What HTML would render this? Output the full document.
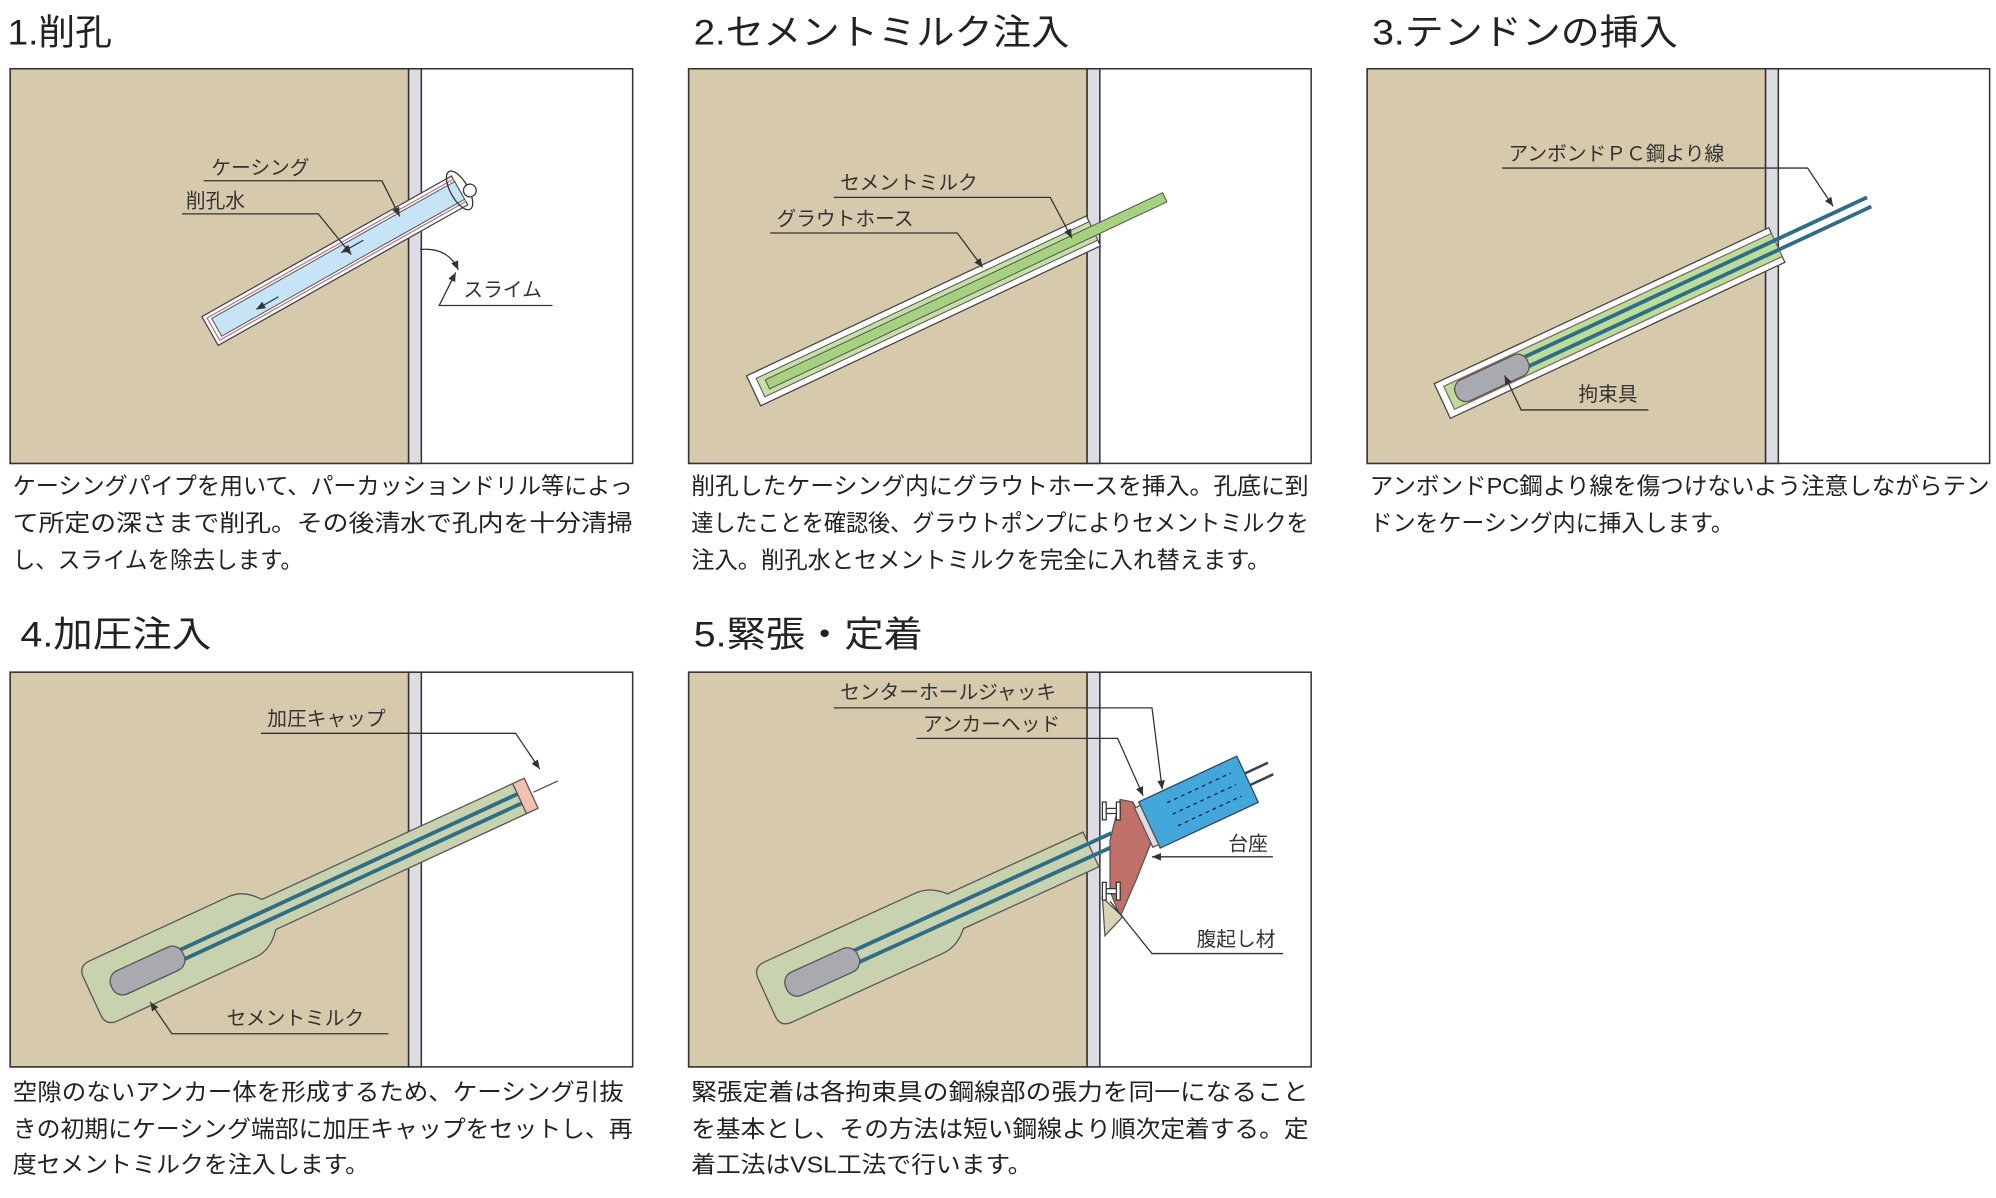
<!DOCTYPE html>
<html><head><meta charset="utf-8"><style>
html,body{margin:0;padding:0;background:#fff;}
svg{display:block;}
text{font-family:"Liberation Sans","Noto Sans CJK JP",sans-serif;fill:#222;}
.t{font-size:28px;}
.c{font-size:18.3px;}
.l{font-size:15.5px;fill:#333;}
</style></head><body>
<svg width="1996" height="1198" viewBox="0 0 1568 941" preserveAspectRatio="none" xmlns="http://www.w3.org/2000/svg">
<defs>
<marker id="ar" markerWidth="8" markerHeight="8" refX="7" refY="4" orient="auto"><path d="M0,1 L7,4 L0,7 z" fill="#333"/></marker>
</defs>
<!-- Titles -->
<text class="t" x="6" y="35" textLength="82" lengthAdjust="spacingAndGlyphs">1.削孔</text>
<text class="t" x="545" y="35" textLength="295" lengthAdjust="spacingAndGlyphs">2.セメントミルク注入</text>
<text class="t" x="1078" y="35" textLength="240" lengthAdjust="spacingAndGlyphs">3.テンドンの挿入</text>
<text class="t" x="16" y="508" textLength="150" lengthAdjust="spacingAndGlyphs">4.加圧注入</text>
<text class="t" x="545" y="508" textLength="180" lengthAdjust="spacingAndGlyphs">5.緊張・定着</text>

<!-- Panel boxes -->
<g stroke="#333" stroke-width="1.2">
<rect x="8" y="54" width="489" height="310" fill="#fff"/>
<rect x="8" y="54" width="313" height="310" fill="#d7c9ac"/>
<rect x="321" y="54" width="10" height="310" fill="#dcdce2"/>
<rect x="541" y="54" width="489" height="310" fill="#fff"/>
<rect x="541" y="54" width="313" height="310" fill="#d7c9ac"/>
<rect x="854" y="54" width="10" height="310" fill="#dcdce2"/>
<rect x="1074" y="54" width="489" height="310" fill="#fff"/>
<rect x="1074" y="54" width="313" height="310" fill="#d7c9ac"/>
<rect x="1387" y="54" width="10" height="310" fill="#dcdce2"/>
<rect x="8" y="528" width="489" height="310" fill="#fff"/>
<rect x="8" y="528" width="313" height="310" fill="#d7c9ac"/>
<rect x="321" y="528" width="10" height="310" fill="#dcdce2"/>
<rect x="541" y="528" width="489" height="310" fill="#fff"/>
<rect x="541" y="528" width="313" height="310" fill="#d7c9ac"/>
<rect x="854" y="528" width="10" height="310" fill="#dcdce2"/>
</g>

<!-- Panel 1 -->
<g transform="translate(165,260) rotate(-29.4)">
<rect x="0" y="-13" width="225" height="26" fill="#fff" stroke="#444"/>
<rect x="3" y="-10" width="222" height="20" fill="none" stroke="#b78" stroke-width="1"/>
<rect x="6" y="-8" width="219" height="16" fill="#c6e4f6" stroke="#555" stroke-width="0.8"/>
<ellipse cx="225" cy="0" rx="7" ry="17" fill="none" stroke="#333"/>
<circle cx="232" cy="4" r="5" fill="#fff" stroke="#333"/>
<line x1="120" y1="-3" x2="140" y2="-3" stroke="#246" marker-end="url(#ar)" transform="rotate(180,130,-3)"/>
<line x1="40" y1="3" x2="60" y2="3" stroke="#246" transform="rotate(180,50,3)" marker-end="url(#ar)"/>
</g>
<text class="l" x="166" y="137">ケーシング</text>
<polyline points="160,142 300,142 314,170" fill="none" stroke="#333" marker-end="url(#ar)"/>
<text class="l" x="146" y="163">削孔水</text>
<polyline points="143,168 250,168 276,200" fill="none" stroke="#333" marker-end="url(#ar)"/>
<path d="M330,196 Q352,194 360,212" fill="none" stroke="#333" marker-end="url(#ar)"/>
<text class="l" x="364" y="233">スライム</text>
<polyline points="434,240 345,240 358,214" fill="none" stroke="#333" marker-end="url(#ar)"/>

<!-- Panel 2 -->
<g transform="translate(592,307) rotate(-25.2)">
<rect x="0" y="-13" width="295" height="26" fill="#fff" stroke="#444"/>
<rect x="6" y="-8" width="289" height="16" fill="#c6dfa8" stroke="#555" stroke-width="0.8"/>
<rect x="12" y="-4" width="345" height="8" fill="#a6d17f" stroke="#555" stroke-width="0.8"/>
</g>
<text class="l" x="660" y="149">セメントミルク</text>
<polyline points="655,155 825,155 842,187" fill="none" stroke="#333" marker-end="url(#ar)"/>
<text class="l" x="610" y="177">グラウトホース</text>
<polyline points="605,183 752,183 772,210" fill="none" stroke="#333" marker-end="url(#ar)"/>

<!-- Panel 3 -->
<g transform="translate(1133,315) rotate(-25)">
<rect x="0" y="-15" width="290" height="30" fill="#fff" stroke="#444"/>
<rect x="6" y="-10" width="284" height="20" fill="#bcdc9c" stroke="#866" stroke-width="1"/>
<line x1="60" y1="-4" x2="370" y2="-4" stroke="#2f6d86" stroke-width="3"/>
<line x1="60" y1="4" x2="370" y2="4" stroke="#2f6d86" stroke-width="3"/>
<rect x="12" y="-9" width="62" height="18" rx="8" fill="#a9a9b0" stroke="#555"/>
</g>
<text class="l" x="1185" y="126">アンボンドＰＣ鋼より線</text>
<polyline points="1180,132 1420,132 1440,162" fill="none" stroke="#333" marker-end="url(#ar)"/>
<text class="l" x="1240" y="315">拘束具</text>
<polyline points="1295,322 1195,322 1182,295" fill="none" stroke="#333" marker-end="url(#ar)"/>

<!-- Panel 4 -->
<g transform="translate(95,772) rotate(-24.8)">
<path d="M-15,-26 L105,-26 Q118,-26 128,-13 L345,-13 L345,13 L128,13 Q118,26 105,26 L-15,26 Q-25,26 -25,16 L-25,-16 Q-25,-26 -15,-26 z" fill="#c9d2ae" stroke="#555"/>
<line x1="50" y1="-4" x2="345" y2="-4" stroke="#2f6d86" stroke-width="3"/>
<line x1="50" y1="4" x2="345" y2="4" stroke="#2f6d86" stroke-width="3"/>
<rect x="-8" y="-10" width="62" height="20" rx="9" fill="#a9a9b0" stroke="#555"/>
<rect x="345" y="-13" width="10" height="26" fill="#f2c0b0" stroke="#555"/>
<line x1="357" y1="0" x2="378" y2="0" stroke="#555"/>
</g>
<text class="l" x="210" y="570">加圧キャップ</text>
<polyline points="205,576 405,576 424,604" fill="none" stroke="#333" marker-end="url(#ar)"/>
<text class="l" x="178" y="805">セメントミルク</text>
<polyline points="305,812 135,812 118,787" fill="none" stroke="#333" marker-end="url(#ar)"/>

<!-- Panel 5 -->
<g transform="translate(625,773) rotate(-24.5)">
<path d="M-15,-26 L115,-26 Q128,-26 138,-15 L255,-15 L255,15 L138,15 Q128,26 115,26 L-15,26 Q-25,26 -25,16 L-25,-16 Q-25,-26 -15,-26 z" fill="#c9d2ae" stroke="#555"/>
<line x1="50" y1="-5" x2="275" y2="-5" stroke="#2f6d86" stroke-width="3"/>
<line x1="50" y1="5" x2="275" y2="5" stroke="#2f6d86" stroke-width="3"/>
<rect x="-8" y="-10" width="62" height="20" rx="9" fill="#a9a9b0" stroke="#555"/>
</g>
<polygon points="880,628 890,630 905,660 893,690 880,720 872,700 872,660" fill="#c07068" stroke="#555"/>
<polygon points="866,705 882,720 868,735" fill="#d9d3b8" stroke="#555"/>
<g stroke="#333" fill="#fff">
<rect x="866" y="630" width="3" height="14"/><rect x="877" y="630" width="3" height="14"/><rect x="869" y="635" width="8" height="4"/>
<rect x="866" y="693" width="3" height="14"/><rect x="877" y="693" width="3" height="14"/><rect x="869" y="698" width="8" height="4"/>
</g>
<g transform="translate(903,648) rotate(-25)">
<rect x="0" y="-20" width="85" height="40" fill="#43a7dc" stroke="#345"/>
<rect x="-5" y="-17" width="5" height="34" fill="#ddd" stroke="#555"/>
<g stroke="#124" stroke-dasharray="3,3"><line x1="20" y1="-10" x2="75" y2="-10"/><line x1="20" y1="0" x2="75" y2="0"/><line x1="20" y1="10" x2="75" y2="10"/></g>
<line x1="85" y1="-5" x2="105" y2="-5" stroke="#345" stroke-width="2"/>
<line x1="85" y1="5" x2="105" y2="5" stroke="#345" stroke-width="2"/>
</g>
<text class="l" x="660" y="549">センターホールジャッキ</text>
<polyline points="655,556 905,556 913,620" fill="none" stroke="#333" marker-end="url(#ar)"/>
<text class="l" x="725" y="574">アンカーヘッド</text>
<polyline points="720,580 878,580 898,625" fill="none" stroke="#333" marker-end="url(#ar)"/>
<text class="l" x="965" y="668">台座</text>
<polyline points="1000,673 905,673" fill="none" stroke="#333" marker-end="url(#ar)"/>
<text class="l" x="940" y="743">腹起し材</text>
<polyline points="1008,749 905,749 872,708" fill="none" stroke="#333"/>

<!-- Captions -->
<g lengthAdjust="spacingAndGlyphs">
<text class="c" x="10" y="388" textLength="487" lengthAdjust="spacingAndGlyphs">ケーシングパイプを用いて、パーカッションドリル等によっ</text>
<text class="c" x="10" y="417" textLength="487" lengthAdjust="spacingAndGlyphs">て所定の深さまで削孔。その後清水で孔内を十分清掃</text>
<text class="c" x="10" y="446" textLength="228" lengthAdjust="spacingAndGlyphs">し、スライムを除去します。</text>
<text class="c" x="543" y="388" textLength="485" lengthAdjust="spacingAndGlyphs">削孔したケーシング内にグラウトホースを挿入。孔底に到</text>
<text class="c" x="543" y="417" textLength="485" lengthAdjust="spacingAndGlyphs">達したことを確認後、グラウトポンプによりセメントミルクを</text>
<text class="c" x="543" y="446" textLength="455" lengthAdjust="spacingAndGlyphs">注入。削孔水とセメントミルクを完全に入れ替えます。</text>
<text class="c" x="1076" y="388" textLength="487" lengthAdjust="spacingAndGlyphs">アンボンドPC鋼より線を傷つけないよう注意しながらテン</text>
<text class="c" x="1076" y="417" textLength="286" lengthAdjust="spacingAndGlyphs">ドンをケーシング内に挿入します。</text>
<text class="c" x="10" y="864" textLength="480" lengthAdjust="spacingAndGlyphs">空隙のないアンカー体を形成するため、ケーシング引抜</text>
<text class="c" x="10" y="893" textLength="487" lengthAdjust="spacingAndGlyphs">きの初期にケーシング端部に加圧キャップをセットし、再</text>
<text class="c" x="10" y="921" textLength="280" lengthAdjust="spacingAndGlyphs">度セメントミルクを注入します。</text>
<text class="c" x="543" y="864" textLength="485" lengthAdjust="spacingAndGlyphs">緊張定着は各拘束具の鋼線部の張力を同一になること</text>
<text class="c" x="543" y="893" textLength="485" lengthAdjust="spacingAndGlyphs">を基本とし、その方法は短い鋼線より順次定着する。定</text>
<text class="c" x="543" y="921" textLength="268" lengthAdjust="spacingAndGlyphs">着工法はVSL工法で行います。</text>
</g>
</svg>
</body></html>
